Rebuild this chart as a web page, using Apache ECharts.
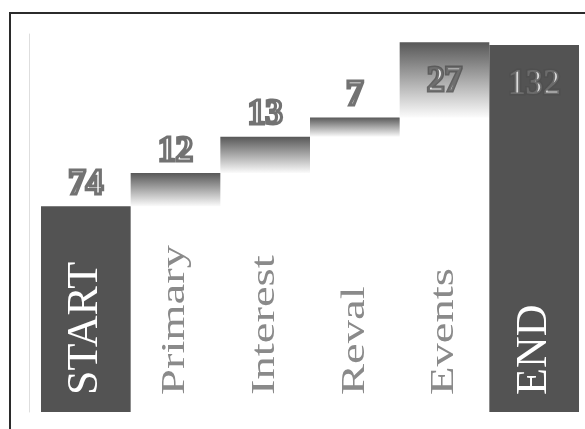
<!DOCTYPE html>
<html>
<head>
<meta charset="utf-8">
<script src="https://cdn.jsdelivr.net/npm/echarts@6/dist/echarts.min.js"></script>
<style>
  html, body { margin: 0; padding: 0; width: 585px; height: 429px; overflow: hidden; background: #fff; }
  #frame { position: absolute; left: 9px; top: 12px; width: 1000px; height: 1000px; border: 2px solid #2b2b2b; box-sizing: border-box; }
  #chart { position: absolute; left: 0; top: 0; width: 585px; height: 429px; }
  .warm { position: absolute; left: -9999px; font-family: 'Liberation Serif'; }
</style>
</head>
<body>
<div id="frame"></div>
<div id="chart"></div>
<span class="warm">START 0123456789</span><span class="warm" style="font-weight:bold">0123456789</span>
<script>
// Waterfall steps: opening total, four movements, closing total
const categories = ['START', 'Primary', 'Interest', 'Reval', 'Events', 'END'];
const values = [74, 12, 13, 7, 27, 132];
const isTotal = [true, false, false, false, false, true];
const labelInside = [false, false, false, false, true, true];

// Invisible base under each floating step
const bases = [];
let running = 0;
values.forEach((v, i) => {
  if (isTotal[i]) { bases.push(0); running = v; }
  else { bases.push(running); running += v; }
});
const tops = values.map((v, i) => bases[i] + v);

const SERIF = 'Liberation Serif';
const DARK = '#535353';
const stepFill = {
  type: 'linear', x: 0, y: 0, x2: 0, y2: 1,
  colorStops: [{ offset: 0, color: '#585858' }, { offset: 1, color: '#fbfbfb' }]
};

const valueFont = { fontFamily: SERIF, fontWeight: 'bold', fontSize: 35 };

function valueLabelData() {
  return tops.map((t, i) => ({
    value: [i, t],
    label: { position: labelInside[i] ? 'bottom' : 'top', distance: labelInside[i] ? 22 : 4 }
  }));
}

function draw() {
  const chart = echarts.init(document.getElementById('chart'), null, { renderer: 'canvas' });
  chart.setOption({
    animation: false,
    backgroundColor: 'transparent',
    grid: { left: 41, right: 6, top: 34, bottom: 17 },
    xAxis: {
      type: 'category',
      data: categories,
      axisLine: { show: false },
      axisTick: { show: false },
      axisLabel: { show: false },
      splitLine: { show: false }
    },
    yAxis: {
      type: 'value',
      min: 0,
      max: 136,
      offset: 12,
      axisLine: { show: true, lineStyle: { color: '#dedede', width: 1 } },
      axisTick: { show: false },
      axisLabel: { show: false },
      splitLine: { show: false }
    },
    series: [
      {
        name: 'base',
        type: 'bar',
        stack: 'flow',
        barCategoryGap: '0%',
        silent: true,
        itemStyle: { color: 'transparent' },
        data: bases
      },
      {
        name: 'step',
        type: 'bar',
        stack: 'flow',
        barCategoryGap: '0%',
        data: values.map((v, i) => ({ value: v, itemStyle: { color: isTotal[i] ? DARK : stepFill } }))
      },
      {
        // category names standing upright inside each column
        name: 'names',
        type: 'custom',
        z: 3,
        silent: true,
        data: categories.map((c, i) => [i, 0]),
        renderItem: (params, api) => {
          const i = api.value(0);
          const p = api.coord([i, 0]);
          const total = isTotal[i];
          return {
            type: 'text',
            x: p[0],
            y: p[1] - 17,
            rotation: Math.PI / 2,
            scaleX: total ? 1 : 1.37,
            style: {
              text: categories[i],
              fill: total ? '#ffffff' : '#8a8a8a',
              font: (total ? 44 : 34) + 'px ' + SERIF,
              align: 'left',
              verticalAlign: 'middle'
            }
          };
        }
      },
      {
        // value text body
        name: 'valueFill',
        type: 'scatter',
        z: 4,
        symbolSize: 0,
        silent: true,
        data: valueLabelData(),
        label: Object.assign({ show: true, color: '#ffffff', formatter: p => String(values[p.dataIndex]) }, valueFont)
      },
      {
        // value text outline, stroked over the body
        name: 'valueEdge',
        type: 'scatter',
        z: 5,
        symbolSize: 0,
        silent: true,
        data: valueLabelData(),
        label: Object.assign({
          show: true, color: 'transparent', textBorderColor: '#4f4f4f', textBorderWidth: 3.2,
          formatter: p => String(values[p.dataIndex])
        }, valueFont)
      }
    ]
  });
}

Promise.all([
  document.fonts.load('34px "Liberation Serif"'),
  document.fonts.load('bold 35px "Liberation Serif"')
]).then(draw, draw);
</script>
</body>
</html>
